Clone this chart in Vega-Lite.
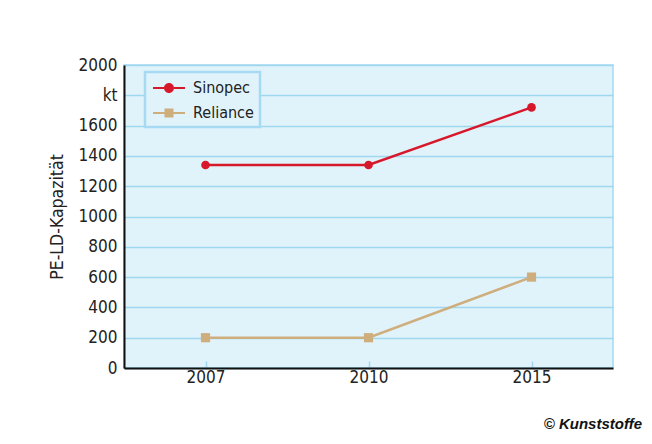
{
  "$schema": "https://vega.github.io/schema/vega-lite/v6.json",
  "width": 489,
  "height": 303,
  "autosize": {"type": "none"},
  "padding": {"left": 124, "top": 65, "right": 39, "bottom": 76},
  "background": "white",
  "data": {"values": [
    {"year": "2007", "series": "Sinopec", "value": 1340},
    {"year": "2010", "series": "Sinopec", "value": 1340},
    {"year": "2015", "series": "Sinopec", "value": 1720},
    {"year": "2007", "series": "Reliance", "value": 200},
    {"year": "2010", "series": "Reliance", "value": 200},
    {"year": "2015", "series": "Reliance", "value": 600}
  ]},
  "title": {"text": "©  Kunststoffe", "orient": "bottom", "anchor": "end", "font": "Liberation Sans", "fontSize": 15, "fontStyle": "italic", "fontWeight": "bold", "color": "#111", "offset": 32, "dx": 29},
  "encoding": {
    "x": {"field": "year", "type": "ordinal", "scale": {"type": "point", "padding": 0.5},
      "axis": {"title": null, "labelAngle": 0, "domainColor": "#111", "domainWidth": 2, "ticks": true, "tickColor": "#9fd7f0", "tickSize": -7, "tickWidth": 1.5, "labelPadding": 8, "grid": false}},
    "y": {"field": "value", "type": "quantitative", "scale": {"domain": [0, 2000], "nice": false},
      "axis": {"title": "PE-LD-Kapazität", "values": [0, 200, 400, 600, 800, 1000, 1200, 1400, 1600, 1800, 2000], "labelExpr": "datum.value == 1800 ? 'kt' : datum.value", "domainColor": "#111", "domainWidth": 2, "ticks": false, "labelPadding": 7, "grid": true, "gridColor": "#9fd7f0", "gridWidth": 1.5, "titlePadding": 12, "titleFontSize": 17.5, "titleFontWeight": "normal"}}
  },
  "layer": [
    {"mark": {"type": "line", "strokeWidth": 2.5},
      "encoding": {"color": {"field": "series", "type": "nominal", "scale": {"domain": ["Sinopec", "Reliance"], "range": ["#d7182a", "#cfae7e"]},
        "legend": {"orient": "none", "legendX": 21, "legendY": 7, "title": null, "fillColor": "#e1f3fa", "strokeColor": "#a6daf2", "padding": 6, "symbolSize": 400, "symbolOffset": 8, "labelOffset": 14, "rowPadding": 7, "labelFont": "Liberation Sans Narrow, DejaVu Sans Condensed, Open Sans", "labelFontSize": 16, "labelColor": "#222",
          "encode": {
            "symbols": {"update": {
              "shape": {"signal": "datum.value === 'Sinopec' ? 'M-1.6,-0.1H-0.5V0.1H-1.6Z M0.5,-0.1H1.6V0.1H0.5Z M0.5,0A0.5,0.5,0,1,1,-0.5,0A0.5,0.5,0,1,1,0.5,0Z' : 'M-1.6,-0.1H-0.45V0.1H-1.6Z M0.45,-0.1H1.6V0.1H0.45Z M-0.45,-0.45H0.45V0.45H-0.45Z'"},
              "fill": {"signal": "datum.value === 'Sinopec' ? '#d7182a' : '#cfae7e'"},
              "fillOpacity": {"value": 1},
              "opacity": {"value": 1},
              "stroke": {"value": "transparent"},
              "strokeWidth": {"value": 0},
              "size": {"value": 400}
            }}
          }}}}},
    {"mark": {"type": "point", "filled": true, "opacity": 1},
      "encoding": {
        "color": {"condition": {"test": "datum.series == 'Sinopec'", "value": "#d7182a"}, "value": "#cfae7e"},
        "shape": {"condition": {"test": "datum.series == 'Sinopec'", "value": "circle"}, "value": "square"},
        "size": {"condition": {"test": "datum.series == 'Sinopec'", "value": 75}, "value": 85}
      }}
  ],
  "config": {
    "view": {"fill": "#e1f3fa", "stroke": "#a6daf2", "strokeWidth": 1.5},
    "legend": {"strokeWidth": 2.5},
    "axis": {"labelFont": "Liberation Sans Narrow, DejaVu Sans Condensed, Open Sans", "labelFontSize": 17, "labelColor": "#222", "titleFont": "Liberation Sans Narrow, DejaVu Sans Condensed, Open Sans", "titleColor": "#222"}
  }
}
